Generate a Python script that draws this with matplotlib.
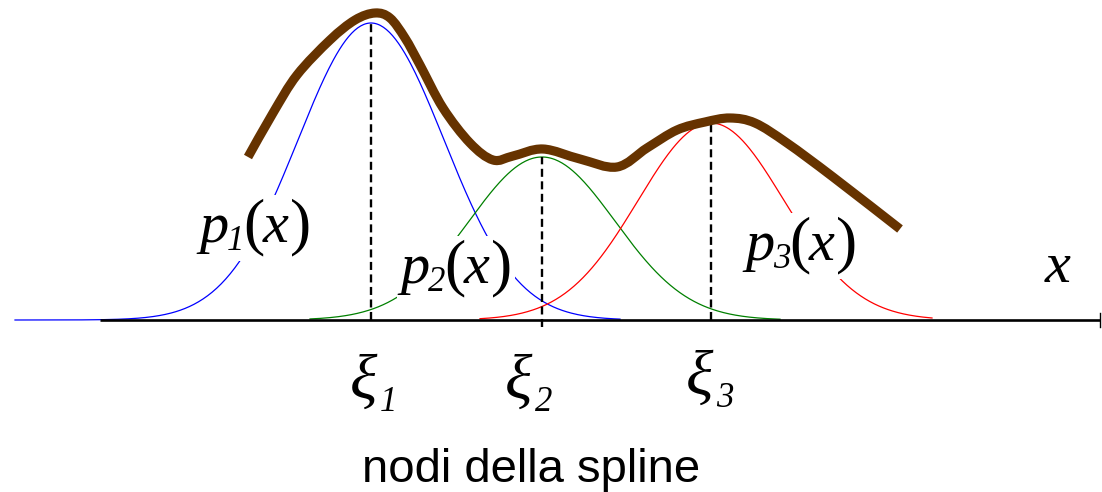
import numpy as np
import matplotlib
matplotlib.use("Agg")
import matplotlib.pyplot as plt
from matplotlib.path import Path
from matplotlib.patches import PathPatch, Rectangle
from matplotlib.transforms import Bbox

# Basis bumps centred on the spline knots (x in axis units, heights above the baseline)
knots = [3.71, 5.42, 7.11]
bump_heights = [2.97, 1.63, 1.97]
bump_width = 0.73
bump_start = [0.15, 3.10, 4.80]
bump_end = [6.20, 7.80, 9.32]
bump_colors = ["#0000ff", "#008000", "#ff0000"]
dash_bottom = [0.0, -0.07, 0.0]

# Resulting spline curve (through-points)
spline_x = [2.48, 2.73, 2.97, 3.30, 3.55, 3.75, 3.90, 4.05, 4.20, 4.43, 4.70,
            4.93, 5.13, 5.43, 5.80, 6.17, 6.47, 6.77, 7.05, 7.30, 7.55, 7.87,
            8.33, 9.00]
spline_y = [1.63, 2.07, 2.45, 2.80, 3.00, 3.07, 3.02, 2.82, 2.55, 2.12, 1.77,
            1.60, 1.64, 1.71, 1.61, 1.53, 1.72, 1.90, 1.98, 2.02, 1.97, 1.77,
            1.43, 0.91]

# Labels
bump_subs = ["1", "2", "3"]
bump_label_pos = [(1.99, 0.78), (4.00, 0.37), (7.45, 0.60)]
knot_subs = ["1", "2", "3"]
knot_label_pos = [(3.50, -0.79), (5.05, -0.79), (6.86, -0.75)]
axis_label = "x"
axis_label_pos = (10.45, 0.38)
caption = "nodi della spline"

SERIF = "Liberation Serif"

fig = plt.figure(figsize=(11.02, 4.92), dpi=100)
ax = fig.add_axes([0, 0, 1, 1])
ax.set_xlim(0, 11.02)
ax.set_ylim(-1.72, 3.20)
ax.axis("off")

# basis functions
for c, h, a, b, col in zip(knots, bump_heights, bump_start, bump_end, bump_colors):
    xs = np.linspace(a, b, 400)
    ys = h * np.exp(-0.5 * ((xs - c) / bump_width) ** 2)
    ax.plot(xs, ys, color=col, lw=0.9, zorder=1)

# knot markers
for c, h, lo in zip(knots, bump_heights, dash_bottom):
    ax.plot([c, c], [lo, h], color="black", lw=1.7, ls=(0, (3.4, 1.9)), zorder=2)

# horizontal axis
ax.plot([1.0, 11.0], [0, 0], color="black", lw=1.9, zorder=2, solid_capstyle="butt")
ax.plot([11.0, 11.0], [-0.07, 0.07], color="black", lw=1.0, zorder=2)

# spline drawn as a smooth cubic Bezier path through its points
pts = np.column_stack([spline_x, spline_y])
ext = np.vstack([pts[0], pts, pts[-1]])
verts = [tuple(pts[0])]
codes = [Path.MOVETO]
for i in range(1, len(ext) - 2):
    p0, p1, p2, p3 = ext[i - 1], ext[i], ext[i + 1], ext[i + 2]
    verts += [tuple(p1 + (p2 - p0) / 6.0), tuple(p2 - (p3 - p1) / 6.0), tuple(p2)]
    codes += [Path.CURVE4] * 3
ax.add_patch(PathPatch(Path(verts, codes), fill=False, edgecolor="#663300",
                       lw=6.6, joinstyle="round", capstyle="butt", zorder=5))


def place(x, y, pieces):
    """Write a label from pieces (text, dx_px, dy_px, size_pt, style)."""
    out = []
    for txt, dx, dy, size, style in pieces:
        out.append(ax.annotate(txt, xy=(x, y), xytext=(dx, dy),
                               textcoords="offset pixels", fontsize=size,
                               family=SERIF, fontstyle=style, ha="left",
                               va="baseline", zorder=4, annotation_clip=False))
    return out


bump_texts = []
for sub, (x, y) in zip(bump_subs, bump_label_pos):
    bump_texts.append(place(x, y, [("p", 0, 0, 42, "italic"),
                                   (sub, 28, -8, 25, "italic"),
                                   ("(", 44, 0, 46, "normal"),
                                   ("x", 64, 0, 42, "italic"),
                                   (")", 91, 0, 46, "normal")]))

for sub, (x, y) in zip(knot_subs, knot_label_pos):
    place(x, y, [("\u03be", 0, 0, 46, "italic"), (sub, 30, -12, 25, "italic")])

ax.text(*axis_label_pos, axis_label, fontsize=42, family=SERIF,
        fontstyle="italic", ha="left", va="baseline", zorder=4)
ax.text(3.62, -1.62, caption, fontsize=34, family="Liberation Sans",
        ha="left", va="baseline", zorder=4)

# white backing behind the p_i(x) labels so the thin curves break around them
fig.canvas.draw()
renderer = fig.canvas.get_renderer()
inv = ax.transData.inverted()
for group in bump_texts:
    bb = Bbox.union([t.get_window_extent(renderer) for t in group])
    bb = bb.padded(3)
    (x0, y0), (x1, y1) = inv.transform([[bb.x0, bb.y0], [bb.x1, bb.y1]])
    ax.add_patch(Rectangle((x0, y0), x1 - x0, y1 - y0, fc="white", ec="none",
                           zorder=3))

fig.savefig("out.png", dpi=100)
